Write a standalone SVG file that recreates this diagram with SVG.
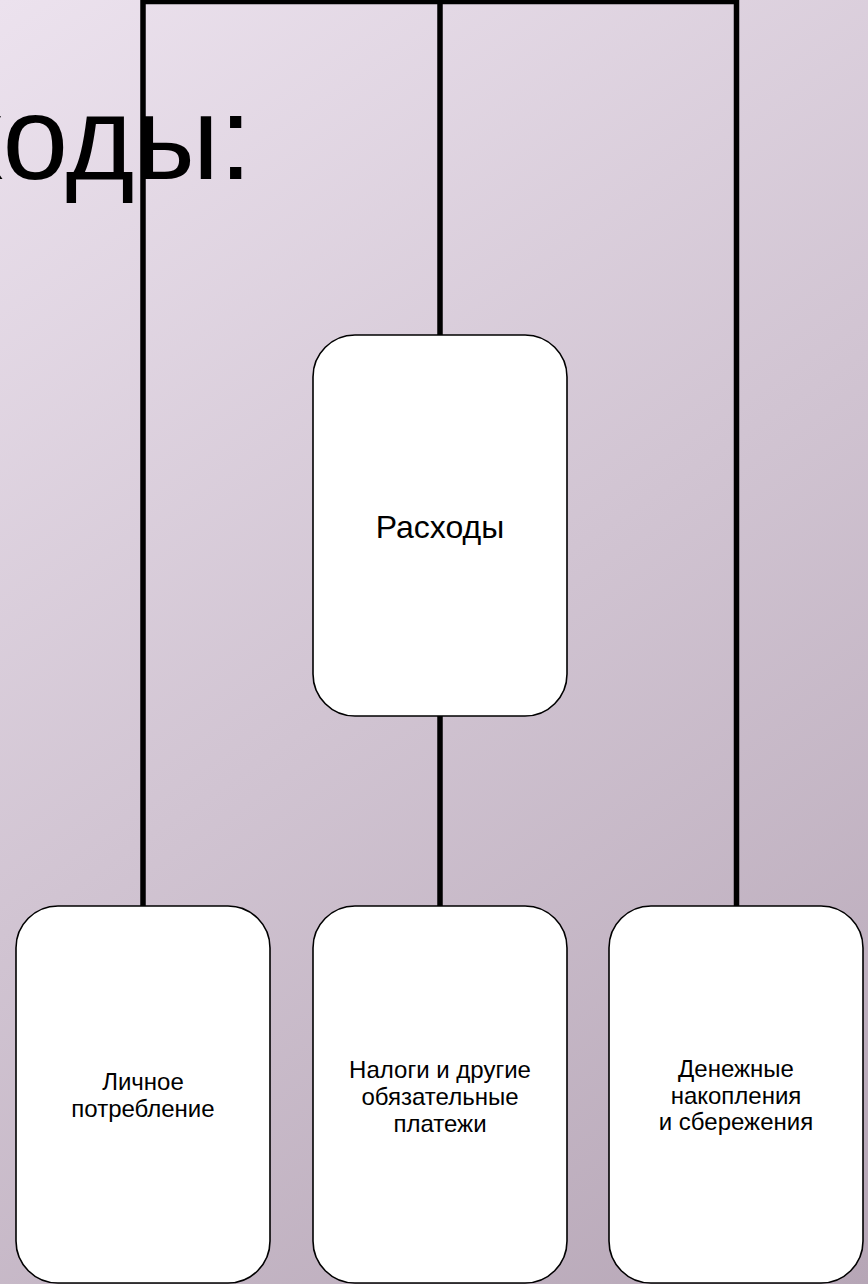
<svg xmlns="http://www.w3.org/2000/svg" width="868" height="1284" viewBox="0 0 868 1284">
<defs>
<linearGradient id="bg" x1="0" y1="0" x2="868" y2="1284" gradientUnits="userSpaceOnUse">
<stop offset="0" stop-color="#ECE2EE"/>
<stop offset="1" stop-color="#B6A6B6"/>
</linearGradient>
<style>
.box{fill:#FFFFFF;stroke:#000000;stroke-width:1.6}
.conn{fill:none;stroke:#000000;stroke-width:5.5}
.lbl{font-family:"Liberation Sans",Arial,sans-serif;font-size:24px;fill:#000000;text-anchor:middle}
.main{font-family:"Liberation Sans",Arial,sans-serif;font-size:32px;fill:#000000;text-anchor:middle}
.title{font-family:"Liberation Sans",Arial,sans-serif;font-size:118px;fill:#000000;text-anchor:end}
</style>
</defs>
<rect x="0" y="0" width="868" height="1284" fill="url(#bg)"/>
<text class="title" x="252" y="179">Расходы:</text>
<g id="connectors">
<path class="conn" d="M143,908 V1.5 H736.5 V908"/>
<path class="conn" d="M440,1.5 V336"/>
<path class="conn" d="M440,715 V908"/>
</g>
<g id="node-expenses">
<rect class="box" x="313" y="335" width="254" height="381" rx="42" ry="42"/>
<text class="main" x="440" y="538">Расходы</text>
</g>
<g id="node-consumption">
<rect class="box" x="16" y="906" width="254" height="377" rx="42" ry="42"/>
<text class="lbl" x="143"><tspan x="143" y="1090">Личное</tspan><tspan x="143" y="1116.5">потребление</tspan></text>
</g>
<g id="node-taxes">
<rect class="box" x="313" y="906" width="254" height="377" rx="42" ry="42"/>
<text class="lbl" x="440"><tspan x="440" y="1078">Налоги и другие</tspan><tspan x="440" y="1105">обязательные</tspan><tspan x="440" y="1132">платежи</tspan></text>
</g>
<g id="node-savings">
<rect class="box" x="609" y="906" width="254" height="377" rx="42" ry="42"/>
<text class="lbl" x="736"><tspan x="736" y="1077">Денежные</tspan><tspan x="736" y="1103.5">накопления</tspan><tspan x="736" y="1130">и сбережения</tspan></text>
</g>
</svg>
